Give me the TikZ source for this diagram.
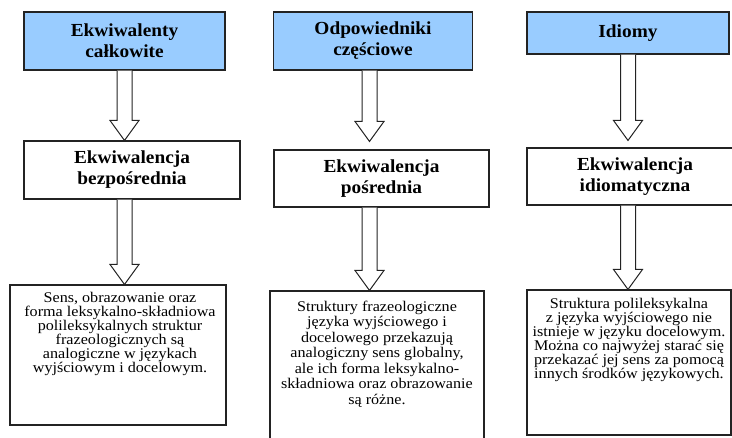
\documentclass[tikz,border=0pt]{standalone}
\usepackage{fontspec}
\setmainfont{Liberation Serif}
\newfontfamily\strfont[FakeStretch=1.05]{Liberation Serif}
\newfontfamily\bodyfont[FakeStretch=1.09]{Liberation Serif}
\usetikzlibrary{calc}
\definecolor{hdrblue}{RGB}{153,204,255}
\definecolor{edgec}{RGB}{35,35,35}
\newcommand\blkarrow[2]{%
  \draw[blk] ($(#1)+(-7.5,0)$) -- ($(#2)+(-7.5,-20)$) -- ($(#2)+(-14.5,-20)$)
    -- (#2) -- ($(#2)+(14.5,-20)$) -- ($(#2)+(7.5,-20)$) -- ($(#1)+(7.5,0)$);}
\tikzset{
  boxbase/.style={draw=edgec, line width=1.1pt, rectangle, inner sep=0pt, align=center},
  hdr/.style={boxbase, fill=hdrblue, font=\strfont\bfseries\fontsize{18.4}{21}\selectfont},
  mid/.style={boxbase, fill=white, font=\strfont\bfseries\fontsize{18.4}{21}\selectfont},
  lowbox/.style={boxbase, fill=white},
  body/.style={inner sep=0pt, align=center, anchor=north, font=\bodyfont\fontsize{14.8}{14}\selectfont},
  blk/.style={draw=edgec, fill=white, line width=1pt, line join=miter}
}
\begin{document}
\begin{tikzpicture}[x=1pt, y=-1pt]
\useasboundingbox (0,0) rectangle (732,438);
% top boxes
\node[hdr, minimum width=201pt, minimum height=58pt] (A1) at (124.5,41) {Ekwiwalenty\\całkowite};
\node[hdr, minimum width=199pt, minimum height=58pt] (A2) at (373,41) {Odpowiedniki\\częściowe};
\node[hdr, minimum width=202pt, minimum height=42pt] (A3) at (628,33) {Idiomy};
% middle boxes
\node[mid, minimum width=216pt, minimum height=58pt] (B1) at (132,170) {Ekwiwalencja\\bezpośrednia};
\node[mid, minimum width=215pt, minimum height=57pt] (B2) at (381.5,178.5) {Ekwiwalencja\\pośrednia};
\node[mid, minimum width=216pt, minimum height=57pt] (B3) at (635,176.5) {Ekwiwalencja\\idiomatyczna};
% bottom boxes
\node[lowbox, minimum width=216pt, minimum height=140pt] (C1) at (118,355) {};
\node[lowbox, minimum width=214pt, minimum height=160pt] (C2) at (377,371) {};
\node[lowbox, minimum width=204pt, minimum height=145pt] (C3) at (629,362.5) {};
% texts
\node[body] (T1) at ($(C1.north)+(2,8)$) {Sens, obrazowanie oraz\\forma leksykalno-składniowa\\polileksykalnych struktur\\frazeologicznych są\\analogiczne w językach\\wyjściowym i docelowym.};
\node[body, font=\bodyfont\fontsize{14.8}{15.5}\selectfont] (T2) at ($(C2.north)+(0,10)$) {Struktury frazeologiczne\\języka wyjściowego i\\docelowego przekazują\\analogiczny sens globalny,\\ale ich forma leksykalno-\\składniowa oraz obrazowanie\\są różne.};
\node[body] (T3) at ($(C3.north)+(0,9)$) {Struktura polileksykalna\\z języka wyjściowego nie\\istnieje w języku docelowym.\\Można co najwyżej starać się\\przekazać jej sens za pomocą\\innych środków językowych.};
% arrow coordinates
\coordinate (s1) at (A1.south);
\coordinate (t1) at (s1 |- B1.north);
\coordinate (u1) at (s1 |- B1.south);
\coordinate (v1) at (s1 |- C1.north);
\coordinate (s2) at ($(A2.south)+(-3.5,0)$);
\coordinate (t2a) at (s2 |- B2.north);
\coordinate (t2) at ($(t2a)+(0,-8)$);
\coordinate (u2) at (s2 |- B2.south);
\coordinate (v2) at (s2 |- C2.north);
\coordinate (s3) at (A3.south);
\coordinate (t3a) at (s3 |- B3.north);
\coordinate (t3) at ($(t3a)+(0,-7)$);
\coordinate (u3) at (s3 |- B3.south);
\coordinate (v3) at (s3 |- C3.north);
\blkarrow{s1}{t1}
\blkarrow{u1}{v1}
\blkarrow{s2}{t2}
\blkarrow{u2}{v2}
\blkarrow{s3}{t3}
\blkarrow{u3}{v3}
\end{tikzpicture}
\end{document}
